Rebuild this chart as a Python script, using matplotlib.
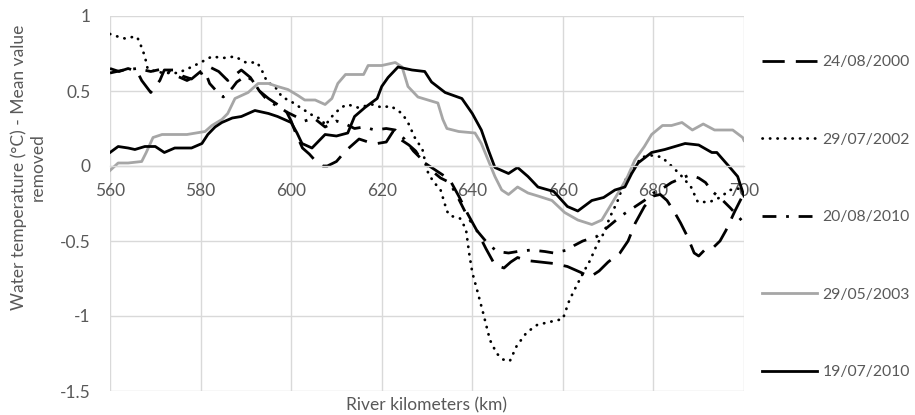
import matplotlib
matplotlib.use("Agg")
import matplotlib.pyplot as plt

plt.rcParams['font.family'] = ['Lato', 'DejaVu Sans']

# ---- data ----
km_2000 = [560, 562, 564, 566, 567, 569, 571, 572, 574, 576, 578, 580, 582, 584, 586, 589, 591, 593, 595, 597, 599,
           600, 601, 602.5, 604, 605.5, 607, 608, 610, 612, 613.5, 615, 617, 619, 621, 622.5, 624, 626, 627.5, 629,
           631, 633, 635, 637, 639, 641, 643, 645, 647, 648.5, 650, 652, 655, 658, 661, 664, 666, 668, 670, 672.6,
           674.4, 676, 678, 680, 681.5, 683, 684.5, 686, 687.5, 689, 690, 691.3, 693, 694.7, 696, 698, 700]
t_2000 = [0.65, 0.63, 0.65, 0.63, 0.57, 0.49, 0.57, 0.64, 0.64, 0.60, 0.58, 0.63, 0.66, 0.63, 0.57, 0.64, 0.59, 0.50,
          0.45, 0.41, 0.36, 0.30, 0.22, 0.12, 0.08, 0.03, 0.00, 0.00, 0.03, 0.10, 0.14, 0.18, 0.16, 0.15, 0.16, 0.23,
          0.18, 0.14, 0.10, 0.03, -0.01, -0.05, -0.09, -0.20, -0.32, -0.43, -0.55, -0.66, -0.68, -0.64, -0.61, -0.63,
          -0.64, -0.65, -0.67, -0.71, -0.74, -0.70, -0.64, -0.58, -0.50, -0.38, -0.27, -0.20, -0.19, -0.23, -0.30,
          -0.38, -0.47, -0.58, -0.60, -0.56, -0.55, -0.50, -0.43, -0.30, -0.18]

km_2002 = [560, 561, 562, 563.3, 565, 566, 567, 567.7, 568.3, 570, 572, 575, 578, 580, 582.5, 585, 587.6, 590, 592.5,
           593.5, 594.7, 596.4, 598, 600, 602, 604.6, 606.8, 607.5, 609, 611, 612.5, 614.7, 618, 620, 622, 624.5,
           625.8, 627.3, 629, 630, 631.3, 633, 634.4, 635, 637.3, 638.6, 639.3, 640, 641, 642.4, 643.9, 645.4, 646.8,
           648.3, 649.8, 652, 654.3, 657, 660, 661.5, 663, 664.7, 666, 667.6, 669, 670.4, 672, 673.7, 675.5, 677.6,
           679.6, 681.8, 684, 686, 688.3, 689.8, 692.4, 694.7, 696.9, 699, 700]
t_2002 = [0.88, 0.87, 0.86, 0.85, 0.86, 0.86, 0.79, 0.73, 0.65, 0.63, 0.62, 0.62, 0.66, 0.69, 0.73, 0.72, 0.73, 0.69,
          0.69, 0.64, 0.56, 0.53, 0.46, 0.43, 0.39, 0.34, 0.31, 0.27, 0.33, 0.39, 0.41, 0.39, 0.41, 0.39, 0.40, 0.35,
          0.29, 0.19, 0.11, -0.03, -0.10, -0.16, -0.30, -0.33, -0.35, -0.42, -0.58, -0.71, -0.82, -0.98, -1.16,
          -1.25, -1.29, -1.30, -1.20, -1.11, -1.06, -1.04, -1.02, -0.89, -0.80, -0.70, -0.63, -0.52, -0.45, -0.34,
          -0.24, -0.10, -0.01, 0.06, 0.07, 0.06, 0.00, -0.06, -0.14, -0.24, -0.24, -0.21, -0.16, -0.15, -0.15]

km_2010a = [560, 563, 566, 569, 572, 574, 577, 579, 581, 582, 583.5, 585, 587, 588, 590, 591.5, 593, 595, 597, 599,
            601, 603, 605, 607.5, 610, 612, 614, 616, 618.5, 621, 623, 625, 627, 629, 631, 633, 635, 637, 639, 641,
            643.5, 645.5, 648, 650, 653, 656, 658, 661, 662.5, 664.4, 667.5, 669, 671, 673, 674.5, 676, 678, 680,
            682, 684, 686.3, 688, 690, 691.5, 693, 695, 697, 700]
t_2010a = [0.62, 0.64, 0.65, 0.63, 0.65, 0.61, 0.57, 0.60, 0.63, 0.55, 0.50, 0.46, 0.52, 0.56, 0.60, 0.57, 0.50, 0.43,
           0.40, 0.36, 0.33, 0.30, 0.32, 0.26, 0.30, 0.28, 0.25, 0.26, 0.24, 0.25, 0.24, 0.18, 0.10, 0.04, -0.03,
           -0.08, -0.11, -0.22, -0.34, -0.43, -0.52, -0.57, -0.58, -0.57, -0.56, -0.57, -0.58, -0.56, -0.53, -0.50,
           -0.47, -0.43, -0.38, -0.33, -0.30, -0.27, -0.23, -0.18, -0.15, -0.11, -0.08, -0.06, -0.08, -0.11, -0.17,
           -0.22, -0.28, -0.38]

km_2003 = [560, 561.8, 564, 567, 568, 569.5, 571.5, 574.5, 577, 581, 582.5, 584.7, 586, 587.6, 590.5, 592.7, 595,
           597, 599.3, 601.5, 603, 605.3, 607.5, 609, 610.3, 612, 614, 616, 617, 620, 623, 624.5, 625.8, 628, 632.4,
           633.5, 634.4, 637, 640.6, 642, 643.5, 645, 646.5, 648, 650, 652.3, 654.5, 657.6, 660.4, 663.3, 666.4,
           668.6, 670.8, 673, 674.3, 675.9, 678, 679.6, 682, 684, 686.3, 688.6, 691, 693.5, 694.7, 697.5, 699.7, 700]
t_2003 = [-0.03, 0.02, 0.02, 0.03, 0.09, 0.19, 0.21, 0.21, 0.21, 0.23, 0.27, 0.31, 0.35, 0.45, 0.49, 0.55, 0.55,
          0.53, 0.51, 0.47, 0.44, 0.44, 0.41, 0.45, 0.55, 0.61, 0.61, 0.61, 0.67, 0.67, 0.69, 0.66, 0.53, 0.46, 0.42,
          0.31, 0.25, 0.23, 0.22, 0.15, 0.04, -0.07, -0.16, -0.19, -0.14, -0.18, -0.20, -0.23, -0.31, -0.36, -0.39,
          -0.36, -0.25, -0.14, -0.07, 0.04, 0.13, 0.21, 0.27, 0.27, 0.29, 0.24, 0.28, 0.24, 0.24, 0.24, 0.19, 0.17]

km_2010b = [560, 561.8, 564, 565.5, 567.7, 570, 572, 574.3, 578, 580.3, 581.6, 583.2, 584.7, 587, 589, 592, 595,
            597, 600, 601.3, 602.4, 604.6, 607.5, 610, 612.5, 614, 616.3, 619, 620, 621.4, 623.6, 626.7, 629.5, 631,
            634, 637.7, 640, 642, 643.5, 645, 648, 650, 652.3, 654.5, 658, 661, 663.3, 666.4, 669, 671.5, 673.7,
            675.2, 676.6, 679.6, 682.5, 687, 690, 692.9, 694, 696.9, 698.6, 700]
t_2010b = [0.09, 0.13, 0.12, 0.11, 0.13, 0.13, 0.09, 0.12, 0.12, 0.15, 0.21, 0.26, 0.29, 0.32, 0.33, 0.37, 0.35,
           0.33, 0.29, 0.22, 0.15, 0.12, 0.21, 0.20, 0.22, 0.33, 0.39, 0.45, 0.53, 0.59, 0.66, 0.64, 0.63, 0.56, 0.49,
           0.45, 0.35, 0.24, 0.11, -0.01, -0.05, -0.01, -0.07, -0.14, -0.17, -0.27, -0.30, -0.23, -0.21, -0.16,
           -0.14, -0.05, 0.02, 0.09, 0.11, 0.15, 0.14, 0.09, 0.09, -0.01, -0.07, -0.20]

labels = ["24/08/2000", "29/07/2002", "20/08/2010", "29/05/2003", "19/07/2010"]
x_ticks = [560, 580, 600, 620, 640, 660, 680, 700]
y_ticks = [-1.5, -1, -0.5, 0, 0.5, 1]
y_tick_labels = ["-1.5", "-1", "-0.5", "0", "0.5", "1"]

TXT = "#595959"
GRID = "#d9d9d9"

fig = plt.figure(figsize=(9.15, 4.15), dpi=100)
ax = fig.add_axes([110 / 915, 1 - 391 / 415, (744 - 110) / 915, (391 - 16) / 415])

lw = 2.0
ax.plot(km_2000, t_2000, color="black", lw=lw, dashes=(8, 4), label=labels[0])
ax.plot(km_2002, t_2002, color="black", lw=lw, dashes=(0.1, 2.6), dash_capstyle="round", label=labels[1])
ax.plot(km_2010a, t_2010a, color="black", lw=lw, dashes=(5, 3.5, 1, 3.5), label=labels[2])
ax.plot(km_2003, t_2003, color="#a6a6a6", lw=lw, label=labels[3])
ax.plot(km_2010b, t_2010b, color="black", lw=lw, label=labels[4])

ax.set_xlim(560, 700)
ax.set_ylim(-1.5, 1)
ax.set_xticks(x_ticks)
ax.set_yticks(y_ticks)
ax.set_yticklabels(y_tick_labels)
ax.grid(True, color=GRID, lw=1.0)
ax.set_axisbelow(True)
for s in ["left", "right", "top"]:
    ax.spines[s].set_visible(False)
ax.spines["bottom"].set_position(("data", 0))
ax.spines["bottom"].set_color(GRID)
ax.spines["bottom"].set_linewidth(1.0)
ax.tick_params(axis="both", length=0, labelsize=12.5, labelcolor=TXT)
ax.tick_params(axis="x", pad=12)
ax.tick_params(axis="y", pad=14)

fig.text(28 / 915, 1 - 167 / 415, "Water temperature (°C) - Mean value\nremoved", rotation=90,
         ha="center", va="center", multialignment="center", fontsize=12.5, color=TXT)
fig.text(427 / 915, 1 - 405 / 415, "River kilometers (km)", ha="center", va="center", fontsize=12.5, color=TXT)

leg = fig.legend(loc="upper left", bbox_to_anchor=(762 / 915, 1 - 55 / 415), frameon=False,
                 fontsize=11.3, labelcolor=TXT, handlelength=3.5, handletextpad=0.35,
                 labelspacing=4.05, borderpad=0, borderaxespad=0)

fig.savefig("out.png", dpi=100)
